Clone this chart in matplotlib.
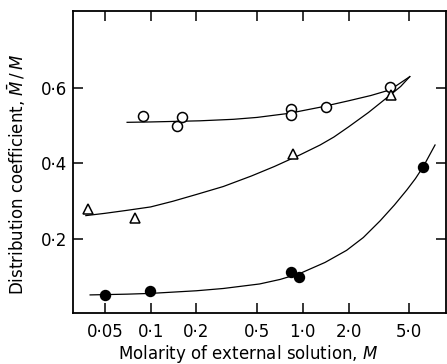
import matplotlib
matplotlib.use("Agg")
import matplotlib.pyplot as plt
from matplotlib.ticker import FixedLocator, NullLocator


# Data
open_x = [0.089, 0.150, 0.161, 0.84, 0.84, 1.42, 3.75]
open_y = [0.526, 0.499, 0.524, 0.545, 0.528, 0.550, 0.602]

tri_x = [0.0385, 0.0787, 0.859, 3.81]
tri_y = [0.279, 0.255, 0.424, 0.581]

filled_x = [0.050, 0.099, 0.838, 0.944, 6.15]
filled_y = [0.053, 0.062, 0.113, 0.100, 0.392]

# Hand-drawn curves through each set, read point by point
open_curve_x = [0.070, 0.1, 0.21, 0.35, 0.5, 0.82, 1.0, 1.3, 2.0, 2.8, 3.75, 5.05]
open_curve_y = [0.509, 0.510, 0.513, 0.517, 0.522, 0.533, 0.540, 0.549, 0.566, 0.580, 0.595, 0.630]

tri_curve_x = [0.0375, 0.05, 0.07, 0.1, 0.14, 0.2, 0.3, 0.46, 0.65, 0.96, 1.3,
               1.6, 2.0, 2.7, 3.75, 4.4, 5.05]
tri_curve_y = [0.262, 0.268, 0.276, 0.285, 0.300, 0.318, 0.339, 0.367, 0.392, 0.423, 0.449,
               0.470, 0.497, 0.535, 0.581, 0.604, 0.630]

filled_curve_x = [0.040, 0.07, 0.1, 0.2, 0.3, 0.52, 0.71, 0.96, 1.4, 1.94, 2.5,
                  3.22, 4.0, 4.83, 5.5, 6.2, 7.4]
filled_curve_y = [0.052, 0.054, 0.056, 0.063, 0.069, 0.081, 0.093, 0.109, 0.138, 0.170, 0.204,
                  0.248, 0.290, 0.330, 0.360, 0.392, 0.449]

x_ticks = [0.05, 0.1, 0.2, 0.5, 1.0, 2.0, 5.0]
x_tick_labels = ["0·05", "0·1", "0·2", "0·5", "1·0", "2·0", "5·0"]
y_ticks = [0.2, 0.4, 0.6]
y_tick_labels = ["0·2", "0·4", "0·6"]


fig = plt.figure(figsize=(4.47, 3.64), dpi=100)
ax = fig.add_axes([0.163, 0.140, 0.835, 0.830])

line_kw = dict(color="black", lw=0.9, solid_joinstyle="round")
ax.plot(open_curve_x, open_curve_y, **line_kw)
ax.plot(tri_curve_x, tri_curve_y, **line_kw)
ax.plot(filled_curve_x, filled_curve_y, **line_kw)

ax.plot(open_x, open_y, "o", ms=7.2, mfc="white", mec="black", mew=1.1)
ax.plot(tri_x, tri_y, "^", ms=7, mfc="white", mec="black", mew=1.1)
ax.plot(filled_x, filled_y, "o", ms=7.2, mfc="black", mec="black")

ax.set_xscale("log")
ax.set_xlim(0.0308, 8.75)
ax.set_ylim(0.004, 0.804)

ax.xaxis.set_major_locator(FixedLocator(x_ticks))
ax.xaxis.set_minor_locator(NullLocator())
ax.set_xticklabels(x_tick_labels)
ax.set_yticks(y_ticks)
ax.set_yticklabels(y_tick_labels)

ax.tick_params(axis="both", direction="in", length=7, width=1.1,
               top=True, right=True, labelsize=12)
ax.tick_params(axis="x", pad=7)
ax.tick_params(axis="y", pad=4)

for s in ax.spines.values():
    s.set_linewidth(1.3)

ax.set_xlabel("Molarity of external solution, $M$", fontsize=12)
ax.set_ylabel(r"Distribution coefficient, $\bar{M}\,/\,M$", fontsize=12)
ax.xaxis.set_label_coords(0.47, -0.10)
ax.yaxis.set_label_coords(-0.12, 0.457)

fig.savefig("out.png", dpi=100)
